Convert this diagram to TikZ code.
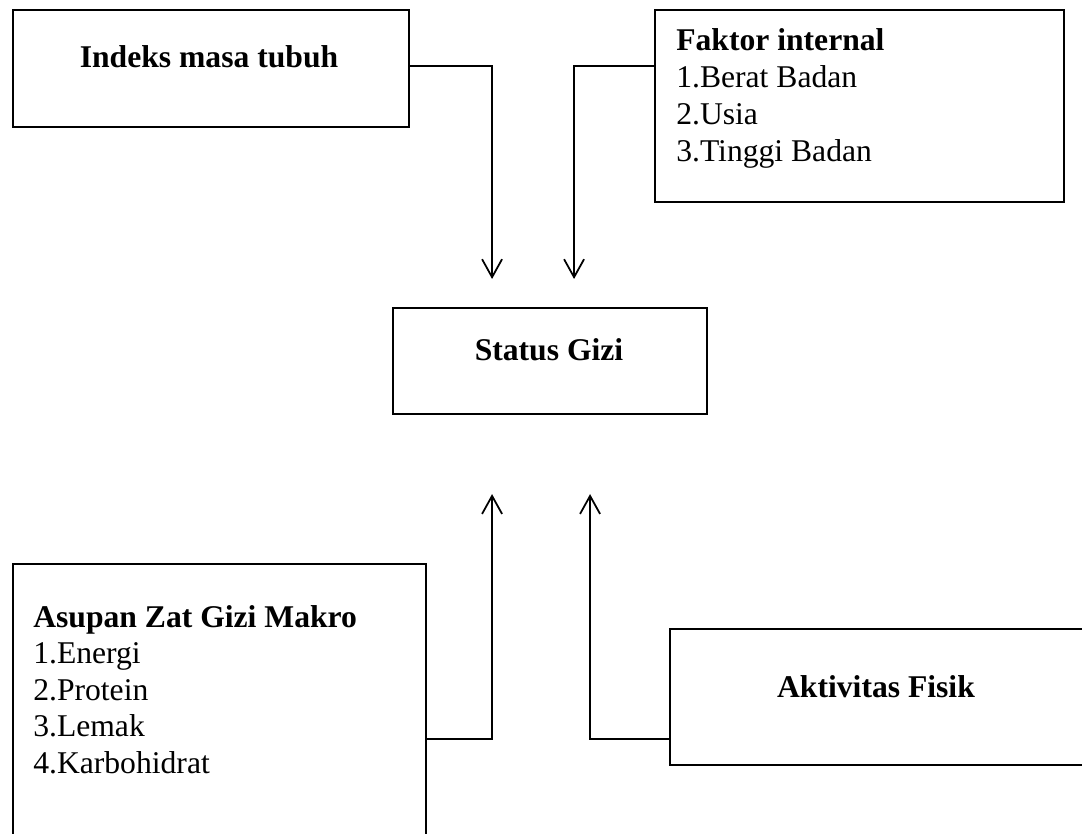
\documentclass[tikz,border=0pt]{standalone}
\usepackage{fontspec}
\setmainfont{Liberation Serif}
\usetikzlibrary{arrows.meta}
\tikzset{
    kotak/.style={draw, line width=1.5pt, inner sep=0pt, anchor=north west},
    panah/.style={line width=1.25pt, -{Straight Barb[length=0.45cm,width=0.5cm]}},
    teks/.style={inner sep=0pt, font=\fontsize{22.5}{26}\selectfont},
    judul/.style={inner sep=0pt, font=\fontsize{22.5}{26}\selectfont\bfseries}
}
\begin{document}
\begin{tikzpicture}
            \useasboundingbox (0,0) rectangle (27.05,-20.85);
            \clip (0,0) rectangle (27.05,-20.85);
            % kotak-kotak
            \node [kotak, minimum width=9.9cm, minimum height=2.925cm] (imt) at(0.3,-0.225) {};
            \node [kotak, minimum width=10.225cm, minimum height=4.8cm] (faktor) at(16.35,-0.225) {};
            \node [kotak, minimum width=7.85cm, minimum height=2.65cm] (status) at(9.8,-7.675) {};
            \node [kotak, minimum width=10.325cm, minimum height=8cm] (asupan) at(0.3,-14.075) {};
            \node [kotak, minimum width=11cm, minimum height=3.4cm] (aktivitas) at(16.725,-15.7) {};
            % teks
            \node [judul, anchor=base] (timt) at(5.225,-1.69) {Indeks masa tubuh};
            \node [judul, anchor=base west] (f0) at(16.9,-1.27) {Faktor internal};
            \foreach \t [count=\i] in {Berat Badan, Usia, Tinggi Badan}
                \node [teks, anchor=base west] (f\i) at(16.9,{-1.27-0.925*\i}) {\i.\t};
            \node [judul, anchor=base] (tstatus) at(13.725,-9.02) {Status Gizi};
            \node [judul, anchor=base west] (a0) at(0.825,-15.675) {Asupan Zat Gizi Makro};
            \foreach \t [count=\i] in {Energi, Protein, Lemak, Karbohidrat}
                \node [teks, anchor=base west] (a\i) at(0.825,{-15.675-0.9125*\i}) {\i.\t};
            \node [judul, anchor=base] (takt) at(21.9,-17.44) {Aktivitas Fisik};
            % panah
            \coordinate (p1) at ([shift={(-1.45,0.7)}]status.north);
            \coordinate (p2) at ([shift={(0.6,0.7)}]status.north);
            \coordinate (p3) at ([shift={(-1.45,-1.975)}]status.south);
            \coordinate (p4) at ([shift={(1.0,-1.975)}]status.south);
            \draw [panah] ([yshift=-1.425cm]imt.north east) -| (p1);
            \draw [panah] ([yshift=-1.425cm]faktor.north west) -| (p2);
            \draw [panah] ([yshift=-4.4cm]asupan.north east) -| (p3);
            \draw [panah] ([yshift=-2.775cm]aktivitas.north west) -| (p4);
        \end{tikzpicture}
\end{document}
